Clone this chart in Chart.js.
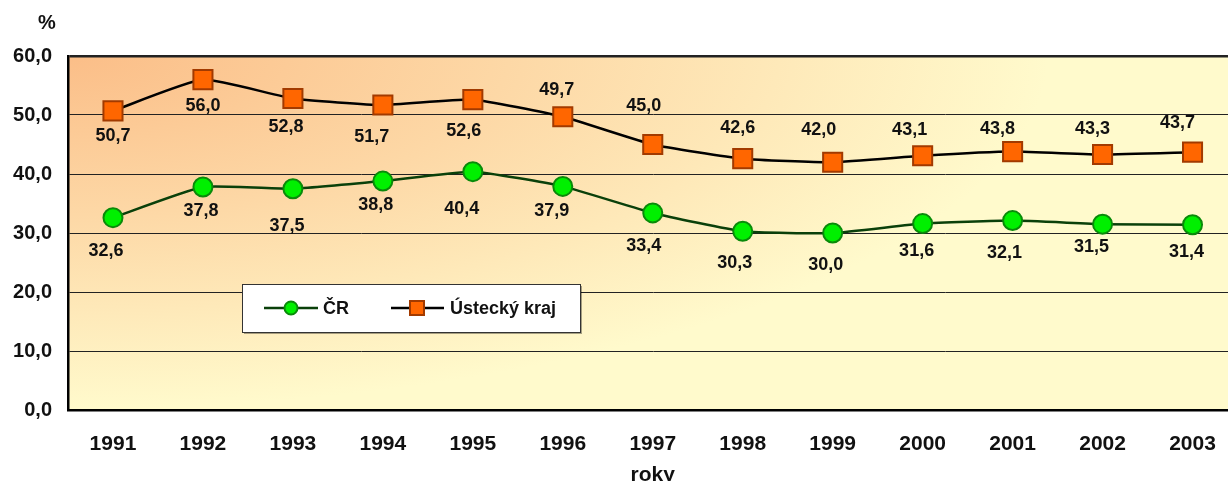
<!DOCTYPE html>
<html>
<head>
<meta charset="utf-8">
<script src="https://cdn.jsdelivr.net/npm/chart.js@4.4.1/dist/chart.umd.min.js"></script>
<style>
    html, body { margin: 0; padding: 0; overflow: hidden; background: #fff; }
    #wrap { position: absolute; left: 0; top: 0; width: 1253px; height: 500px; }
</style>
</head>
<body>
<div id="wrap"><canvas id="rateChart" width="1253" height="500"></canvas></div>
<script>
// Data
const years = ['1991', '1992', '1993', '1994', '1995', '1996', '1997', '1998', '1999', '2000', '2001', '2002', '2003'];
const crValues = [32.6, 37.8, 37.5, 38.8, 40.4, 37.9, 33.4, 30.3, 30.0, 31.6, 32.1, 31.5, 31.4];
const ukValues = [50.7, 56.0, 52.8, 51.7, 52.6, 49.7, 45.0, 42.6, 42.0, 43.1, 43.8, 43.3, 43.7];
const yTicks = [0, 10, 20, 30, 40, 50, 60];

// Label placement (px offset from the point), hand-placed like in the original
const crLabelDx = [-7, -2, -6, -7, -11, -11, -9, -8, -7, -6, -8, -11, -6];
const crLabelDy = [33, 24, 37, 24, 37, 25, 33, 32, 32, 27, 32, 23, 27];
const ukLabelDx = [0, 0, -7, -11, -9, -6, -9, -5, -14, -13, -15, -10, -15];
const ukLabelDy = [25, 26, 29, 32, 31, -27, -38, -31, -32, -26, -23, -25, -29];

const FONT = 'Liberation Sans, Arial, sans-serif';
const fmt = v => v.toFixed(1).replace('.', ',');

// Orange-to-yellow fill of the plot area, from the top-left corner
const plotBackground = {
    id: 'plotBackground',
    beforeDraw(chart) {
        const { ctx, chartArea: a } = chart;
        ctx.save();
        ctx.beginPath();
        ctx.rect(a.left, a.top, a.right - a.left, a.bottom - a.top);
        ctx.clip();
        ctx.translate(a.left, a.top);
        ctx.scale(1, 0.36);
        const g = ctx.createRadialGradient(0, 0, 0, 0, 0, 980);
        g.addColorStop(0, '#FBBE88');
        g.addColorStop(0.45, '#FDD8A6');
        g.addColorStop(1, '#FFFACC');
        ctx.fillStyle = g;
        ctx.fillRect(0, 0, a.right - a.left, (a.bottom - a.top) / 0.36);
        ctx.restore();
    }
};

// Value labels next to each point
const valueLabels = {
    id: 'valueLabels',
    afterDatasetsDraw(chart) {
        const { ctx } = chart;
        const offsets = [[crLabelDx, crLabelDy], [ukLabelDx, ukLabelDy]];
        ctx.save();
        ctx.font = 'bold 18px ' + FONT;
        ctx.fillStyle = '#111';
        ctx.textAlign = 'center';
        ctx.textBaseline = 'middle';
        chart.data.datasets.forEach((ds, di) => {
            const meta = chart.getDatasetMeta(di);
            meta.data.forEach((pt, i) => {
                ctx.fillText(fmt(ds.data[i]), pt.x + offsets[di][0][i], pt.y + offsets[di][1][i]);
            });
        });
        ctx.restore();
    }
};

// Legend box inside the plot + the "%" unit label
const boxLegend = {
    id: 'boxLegend',
    afterDraw(chart) {
        const { ctx, chartArea: a } = chart;
        const x = a.left + 174, y = a.top + 228, w = 338, h = 48;
        ctx.save();
        ctx.shadowColor = 'rgba(0,0,0,0.35)';
        ctx.shadowOffsetX = 2;
        ctx.shadowOffsetY = 2;
        ctx.fillStyle = '#fff';
        ctx.fillRect(x, y, w, h);
        ctx.shadowColor = 'transparent';
        ctx.strokeStyle = '#333';
        ctx.lineWidth = 1;
        ctx.strokeRect(x + 0.5, y + 0.5, w, h);

        const cy = y + h / 2;
        ctx.font = 'bold 18px ' + FONT;
        ctx.textBaseline = 'middle';
        ctx.textAlign = 'left';

        // ČR
        let ds = chart.data.datasets[0];
        ctx.strokeStyle = ds.borderColor;
        ctx.lineWidth = 2.5;
        ctx.beginPath(); ctx.moveTo(x + 22, cy); ctx.lineTo(x + 76, cy); ctx.stroke();
        ctx.beginPath(); ctx.arc(x + 49, cy, 6.5, 0, Math.PI * 2);
        ctx.fillStyle = ds.pointBackgroundColor; ctx.fill();
        ctx.lineWidth = 2; ctx.strokeStyle = ds.pointBorderColor; ctx.stroke();
        ctx.fillStyle = '#111';
        ctx.fillText(ds.label, x + 81, cy + 1);

        // Ústecký kraj
        ds = chart.data.datasets[1];
        ctx.strokeStyle = ds.borderColor;
        ctx.lineWidth = 2.5;
        ctx.beginPath(); ctx.moveTo(x + 149, cy); ctx.lineTo(x + 202, cy); ctx.stroke();
        ctx.fillStyle = ds.pointBackgroundColor;
        ctx.fillRect(x + 168, cy - 7, 14, 14);
        ctx.lineWidth = 2; ctx.strokeStyle = ds.pointBorderColor;
        ctx.strokeRect(x + 168, cy - 7, 14, 14);
        ctx.fillStyle = '#111';
        ctx.fillText(ds.label, x + 208, cy + 1);

        // unit above the y axis
        ctx.font = 'bold 20px ' + FONT;
        ctx.textAlign = 'center';
        ctx.fillText('%', 47, 23);
        ctx.restore();
    }
};

new Chart(document.getElementById('rateChart'), {
    type: 'line',
    data: {
        labels: years,
        datasets: [{
            label: 'ČR',
            data: crValues,
            borderColor: '#0A400A',
            borderWidth: 2.5,
            tension: 0.15,
            pointStyle: 'circle',
            pointRadius: 9.5,
            pointBackgroundColor: '#00F000',
            pointBorderColor: '#0A8A0A',
            pointBorderWidth: 2
        }, {
            label: 'Ústecký kraj',
            data: ukValues,
            borderColor: '#000',
            borderWidth: 2.5,
            tension: 0.15,
            pointStyle: 'rect',
            pointRadius: 13.5,
            pointBackgroundColor: '#FF6600',
            pointBorderColor: '#A23A00',
            pointBorderWidth: 2
        }]
    },
    options: {
        responsive: false,
        animation: false,
        devicePixelRatio: 1,
        layout: { padding: { top: 56, right: 2, left: 0, bottom: 0 } },
        plugins: {
            legend: { display: false },
            tooltip: { enabled: false }
        },
        scales: {
            x: {
                offset: true,
                grid: { display: false, drawTicks: false },
                border: { display: true, color: '#000', width: 2.5 },
                ticks: {
                    color: '#111',
                    padding: 22,
                    maxRotation: 0,
                    font: { family: FONT, size: 21, weight: 'bold' }
                },
                title: {
                    display: true,
                    text: 'roky',
                    color: '#111',
                    padding: { top: 0, bottom: 12 },
                    font: { family: FONT, size: 21, weight: 'bold' }
                },
                afterFit(scale) { scale.height = 90; }
            },
            y: {
                min: yTicks[0],
                max: yTicks[yTicks.length - 1],
                afterBuildTicks(scale) { scale.ticks = yTicks.map(v => ({ value: v })); },
                grid: {
                    color: '#222',
                    lineWidth: ctx => (ctx.tick && ctx.tick.value === 60 ? 2.5 : 1),
                    drawTicks: false
                },
                border: { display: true, color: '#000', width: 2.5 },
                ticks: {
                    color: '#111',
                    padding: 16,
                    font: { family: FONT, size: 20, weight: 'bold' },
                    callback: v => fmt(v)
                },
                afterFit(scale) { scale.width = 68; }
            }
        }
    },
    plugins: [plotBackground, valueLabels, boxLegend]
});
</script>
</body>
</html>
